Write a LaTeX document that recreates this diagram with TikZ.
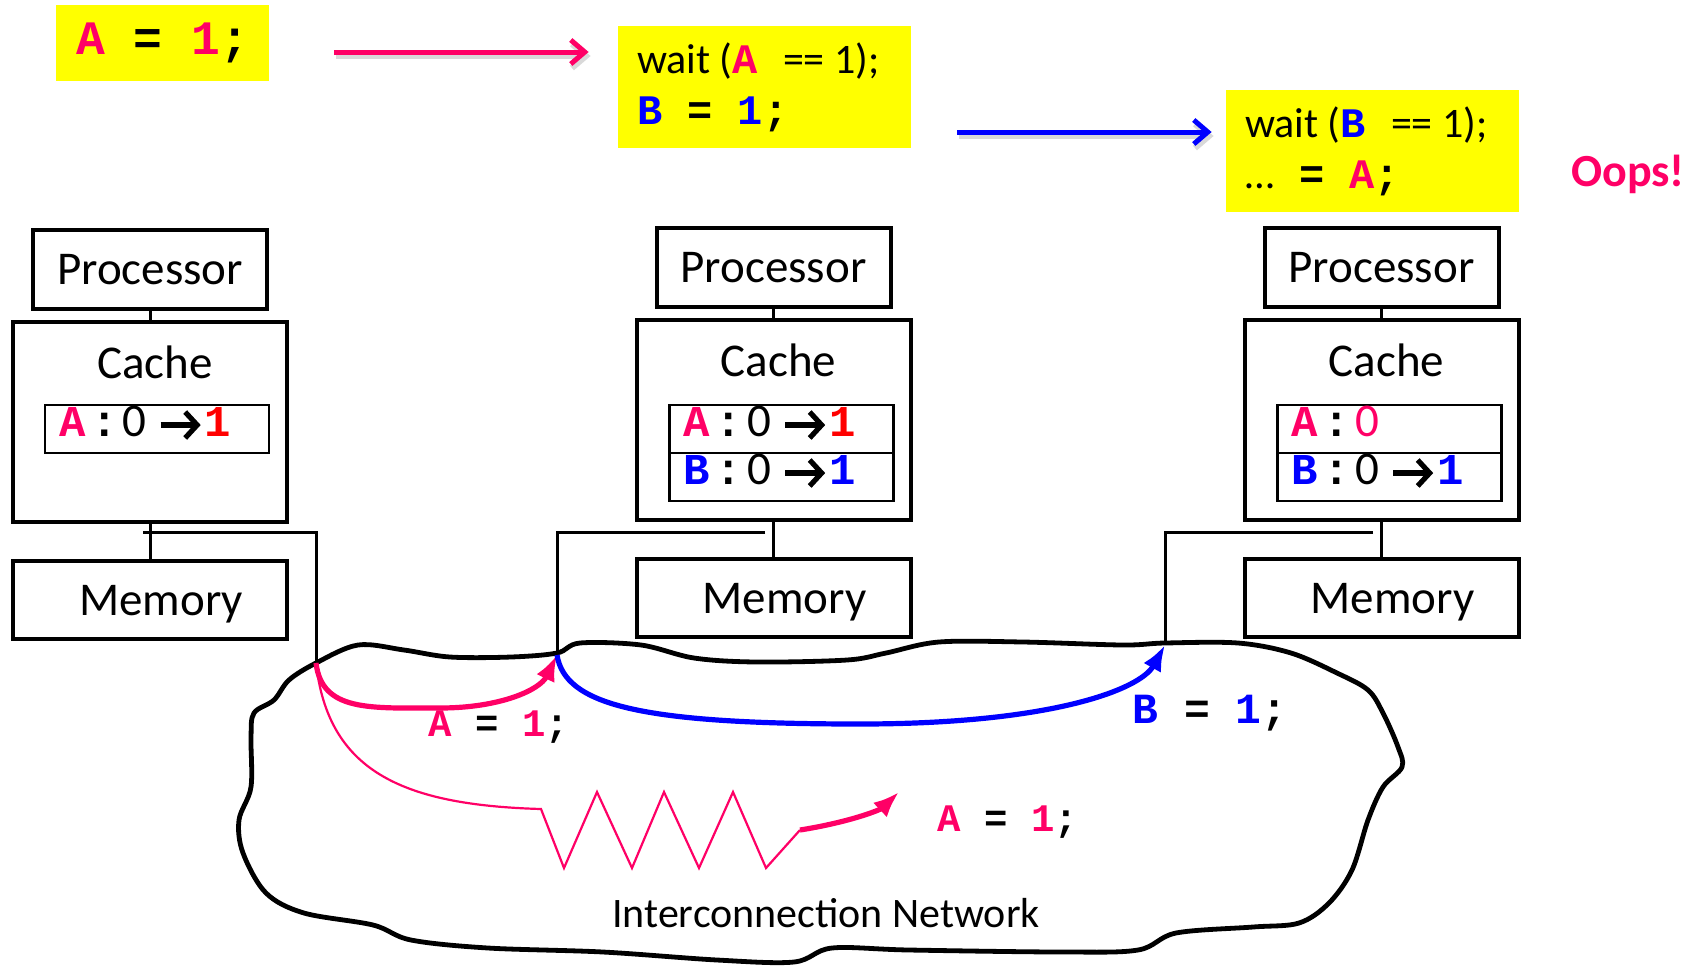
\documentclass[tikz,border=0pt]{standalone}
\usepackage{fontspec}
\setmainfont{Carlito}
\newfontfamily\codefont{Liberation Mono}
\usepackage{tikz}
\usetikzlibrary{arrows.meta}

\definecolor{pinkA}{RGB}{255,0,102}
\definecolor{redA}{RGB}{255,0,0}
\definecolor{blueB}{RGB}{0,0,255}
\definecolor{yellowbg}{RGB}{255,255,0}

\newcommand{\cd}[1]{{\codefont\bfseries\spaceskip=0pt\relax #1}}

\begin{document}
\begin{tikzpicture}[x=0.5pt,y=-0.5pt]
    \tikzstyle{txt}   = [font=\fontsize{23.5}{28}\selectfont]
    \tikzstyle{unit}  = [draw=black, line width=2pt, inner sep=0pt, txt]
    \tikzstyle{proc}  = [unit, minimum width=117pt, minimum height=39.5pt]
    \tikzstyle{cache} = [unit, minimum width=137pt, minimum height=100pt]
    \tikzstyle{mem}   = [unit, minimum width=137pt, minimum height=39pt]
    \tikzstyle{entry} = [draw=black, line width=1.3pt, align=left, inner xsep=7pt,
                         inner ysep=0pt, text width=98pt, text height=15.5pt,
                         text depth=8.5pt, minimum height=24pt, txt]
    \tikzstyle{note}  = [fill=yellowbg, inner sep=0pt, align=left]
    \tikzstyle{wire}  = [draw=black, line width=1.5pt]
    \tikzstyle{flow}  = [line width=2.5pt, -{Straight Barb[length=7pt,width=12pt]},
                         preaction={draw=black!15, line width=3pt,
                                    transform canvas={xshift=1pt,yshift=-2pt}}]
    \tikzstyle{msg}   = [line width=2.6pt, -{Latex[length=13pt,width=10pt]}]
    \tikzstyle{ptr}   = [line width=2.6pt, -{Straight Barb[length=6pt,width=13pt]}]
    \newcommand{\ecd}[1]{{\fontsize{22}{28}\selectfont\cd{#1}}}

    \useasboundingbox (0,0) rectangle (1702,965);

    % program order on top
    \node[note, minimum width=106.5pt, minimum height=38pt,
          font=\fontsize{24}{28}\selectfont] (yA) at (162.5,43)
          {\cd{\textcolor{pinkA}{A} = \textcolor{pinkA}{1};}};
    \node[note, minimum height=61pt, inner xsep=9.5pt, text width=127.5pt,
          font=\fontsize{21}{25.5}\selectfont] (yB) at (764.5,87)
          {\spaceskip=0pt\relax wait (\cd{\textcolor{pinkA}{A} }== 1);\\
           \cd{\textcolor{blueB}{B} = \textcolor{blueB}{1};}};
    \node[note, minimum height=61pt, inner xsep=9.5pt, text width=127.5pt,
          font=\fontsize{21}{25.5}\selectfont] (yC) at (1372.5,151)
          {\spaceskip=0pt\relax wait (\cd{\textcolor{blueB}{B} }== 1);\\
           …\cd{ = \textcolor{pinkA}{A};}};
    \node[font=\fontsize{23}{28}\selectfont\bfseries, text=pinkA] (oops) at (1628,174) {Oops!};

    \draw[flow, pinkA] ([xshift=32.5pt,yshift=-4.5pt]yA.east)--([xshift=-14.5pt,yshift=17.5pt]yB.west);
    \draw[flow, blueB] ([xshift=23pt,yshift=-22.5pt]yB.east)--([xshift=-7pt,yshift=9.5pt]yC.west);

    % the three nodes
    \node[proc]  (p1) at (150,269.5) {Processor};
    \node[proc]  (p2) at (773.5,267.5) {Processor};
    \node[proc]  (p3) at (1381.5,267.5) {Processor};
    \node[cache] (c1) at (150,422) {};
    \node[cache] (c2) at (773.5,420) {};
    \node[cache] (c3) at (1381.5,420) {};
    \node[mem]   (m1) at (150,600) {};
    \node[mem]   (m2) at (773.5,598) {};
    \node[mem]   (m3) at (1381.5,598) {};

    \node[txt] (c1txt) at ([xshift=2.5pt,yshift=-21pt]c1.north) {Cache};
    \node[txt] (c2txt) at ([xshift=2.5pt,yshift=-21pt]c2.north) {Cache};
    \node[txt] (c3txt) at ([xshift=2.5pt,yshift=-21pt]c3.north) {Cache};
    \node[txt] (m1txt) at ([xshift=5.5pt,yshift=-2pt]m1.center) {Memory};
    \node[txt] (m2txt) at ([xshift=5.5pt,yshift=-2pt]m2.center) {Memory};
    \node[txt] (m3txt) at ([xshift=5.5pt,yshift=-2pt]m3.center) {Memory};

    \node[entry] (r1a) at (157,429)
          {\ecd{\textcolor{pinkA}{A}\kern3pt:}\kern2.5pt 0\hspace{29pt}\ecd{\textcolor{redA}{1}}};
    \node[entry] (r2a) at (781.5,429)
          {\ecd{\textcolor{pinkA}{A}\kern3pt:}\kern2.5pt 0\hspace{29pt}\ecd{\textcolor{redA}{1}}};
    \node[entry] (r2b) at (781.5,477)
          {\ecd{\textcolor{blueB}{B}\kern3pt:}\kern2.5pt 0\hspace{29pt}\ecd{\textcolor{blueB}{1}}};
    \node[entry] (r3a) at (1389.5,429)
          {\ecd{\textcolor{pinkA}{A}\kern3pt:}\kern2.5pt \textcolor{pinkA}{0}};
    \node[entry] (r3b) at (1389.5,477)
          {\ecd{\textcolor{blueB}{B}\kern3pt:}\kern2.5pt 0\hspace{29pt}\ecd{\textcolor{blueB}{1}}};
    \draw[ptr] ([xshift=58.5pt,yshift=2pt]r1a.west)--++(20pt,0);
    \draw[ptr] ([xshift=58.5pt,yshift=2pt]r2a.west)--++(20pt,0);
    \draw[ptr] ([xshift=58.5pt,yshift=2pt]r2b.west)--++(20pt,0);
    \draw[ptr] ([xshift=58.5pt,yshift=2pt]r3b.west)--++(20pt,0);

    \draw[wire] (p1)--(c1);
    \draw[wire] (p2)--(c2);
    \draw[wire] (p3)--(c3);
    \draw[wire] (c1)--(m1);
    \draw[wire] (c2)--(m2);
    \draw[wire] (c3)--(m3);

    % taps into the network
    \coordinate (t1) at (143,532);
    \coordinate (t2) at (765,532);
    \coordinate (t3) at (1373,532);
    \coordinate (n1) at (316,663);
    \coordinate (n2) at (557,655);
    \coordinate (n3) at (1165,645);
    \draw[wire] (t1)-|(n1);
    \draw[wire] (t2)-|(n2);
    \draw[wire] (t3)-|(n3);

    % the network cloud
    \draw[line width=2.4pt, line join=round] plot[smooth cycle, tension=0.55] coordinates {
      (316,663) (358,645) (404,650) (450,657) (511,657) (557,653) (580,643)
      (641,645) (694,658) (756,662) (847,660) (886,653) (939,642) (1023,642)
      (1123,645) (1165,643) (1238,643) (1291,653) (1337,673) (1368,690)
      (1383,713) (1398,747) (1402,767) (1383,787) (1368,820) (1352,870)
      (1329,903) (1299,923) (1253,927) (1176,933) (1138,950) (1062,952)
      (909,950) (832,948) (794,962) (717,960) (603,952) (488,948) (411,940)
      (373,925) (304,913) (266,893) (243,853) (239,820) (251,787) (251,737)
      (254,713) (274,700) (289,680)};
    \node[font=\fontsize{21}{25}\selectfont] (net) at (826,913) {Interconnection Network};

    % messages
    \draw[msg, pinkA] (n1) .. controls (322,712) and (370,708) .. (440,708)
                           .. controls (500,708) and (540,690) .. (n2);
    \draw[msg, blueB] (n2) .. controls (565,705) and (640,724) .. (860,724)
                           .. controls (1050,724) and (1140,690) .. (n3);
    \coordinate (zigEnd) at (800,830);
    \coordinate (lateTip) at (899,792);
    \draw[pinkA, line width=1.1pt, line join=miter]
         (n1) .. controls (328,770) and (400,805) .. (541,809)
         -- (564,868) -- (597,792) -- (632,868) -- (664,792)
         -- (699,868) -- (733,792) -- (766,868) -- (zigEnd);
    \draw[msg, pinkA] (zigEnd) .. controls (850,822) and (880,810) .. (lateTip);

    \node[font=\fontsize{19.5}{24}\selectfont] (sendA) at (499,727)
          {\cd{\textcolor{pinkA}{A} = \textcolor{pinkA}{1};}};
    \node[font=\fontsize{21.5}{26}\selectfont] (sendB) at (1210,713)
          {\cd{\textcolor{blueB}{B} = \textcolor{blueB}{1};}};
    \node[font=\fontsize{19.5}{24}\selectfont] (lateA) at (1008,822)
          {\cd{\textcolor{pinkA}{A} = \textcolor{pinkA}{1};}};
\end{tikzpicture}
\end{document}
